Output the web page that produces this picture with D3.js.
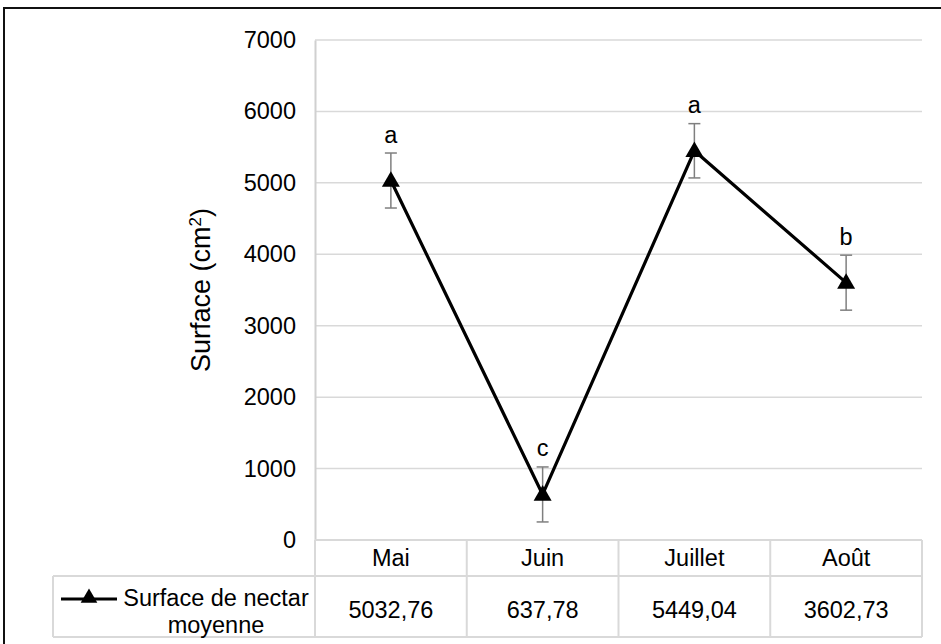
<!DOCTYPE html>
<html><head><meta charset="utf-8">
<script src="https://cdn.jsdelivr.net/npm/d3@7"></script>
<style>body{margin:0;background:#fff}svg{display:block}text{font-family:"Liberation Sans",Arial,sans-serif;fill:#000}</style>
</head><body><svg id="c" width="941" height="644"></svg>
<script>
const months = ["Mai", "Juin", "Juillet", "Août"];
const values = [5032.76, 637.78, 5449.04, 3602.73];
const valueLabels = ["5032,76", "637,78", "5449,04", "3602,73"];
const errors = [385, 385, 380, 385];
const letters = ["a", "c", "a", "b"];
const yTicks = [0, 1000, 2000, 3000, 4000, 5000, 6000, 7000];
const seriesName = ["Surface de nectar", "moyenne"];

const svg = d3.select("#c");
const FS = 23.5;
svg.append("rect").attr("width", 941).attr("height", 644).attr("fill", "#fff");
svg.append("rect").attr("x", 4).attr("y", 8).attr("width", 1000).attr("height", 1000)
  .attr("fill", "none").attr("stroke", "#111").attr("stroke-width", 2);

const x = d3.scaleBand().domain(months).range([315, 922]).padding(0);
const y = d3.scaleLinear().domain([0, 7000]).range([540, 40]);
const cx = d => x(d) + x.bandwidth() / 2;

// gridlines
svg.append("g").selectAll("line").data(yTicks.filter(t => t > 0)).join("line")
  .attr("x1", 315).attr("x2", 922).attr("y1", d => y(d)).attr("y2", d => y(d))
  .attr("stroke", "#d9d9d9").attr("stroke-width", 1.5);

// y axis
const yAxis = d3.axisLeft(y).tickValues(yTicks).tickSize(0).tickPadding(19).tickFormat(d3.format("d"));
const ga = svg.append("g").attr("transform", "translate(315,0)").call(yAxis);
ga.select(".domain").attr("stroke", "#d0d0d0").attr("stroke-width", 2);
ga.selectAll("text").attr("font-size", FS).attr("font-family", '"Liberation Sans",Arial,sans-serif').attr("fill", "#000");

// y title
svg.append("text").attr("transform", "translate(210,290) rotate(-90)")
  .attr("text-anchor", "middle").attr("font-size", 27)
  .html('Surface (cm<tspan baseline-shift="super" font-size="17">2</tspan>)');

// table
const T = {top: 540, mid: 576, bot: 637, left: 53};
const tg = svg.append("g").attr("stroke", "#d9d9d9").attr("stroke-width", 2);
tg.append("line").attr("x1", 315).attr("x2", 922).attr("y1", T.top).attr("y2", T.top);
tg.append("line").attr("x1", T.left).attr("x2", 922).attr("y1", T.mid).attr("y2", T.mid);
tg.append("line").attr("x1", T.left).attr("x2", 922).attr("y1", T.bot).attr("y2", T.bot);
tg.append("line").attr("x1", T.left).attr("x2", T.left).attr("y1", T.mid).attr("y2", T.bot);
tg.selectAll("line.v").data(months).join("line").attr("class", "v")
  .attr("x1", d => x(d)).attr("x2", d => x(d)).attr("y1", T.top).attr("y2", T.bot);
tg.append("line").attr("x1", 922).attr("x2", 922).attr("y1", T.top).attr("y2", T.bot);

svg.append("g").selectAll("text").data(months).join("text")
  .attr("x", d => cx(d)).attr("y", 558).attr("dy", "0.35em")
  .attr("text-anchor", "middle").attr("font-size", FS).text(d => d);
svg.append("g").selectAll("text").data(valueLabels).join("text")
  .attr("x", (d, i) => cx(months[i])).attr("y", 610).attr("dy", "0.35em")
  .attr("text-anchor", "middle").attr("font-size", FS).text(d => d);

// legend in table
svg.append("line").attr("x1", 61).attr("x2", 117).attr("y1", 599).attr("y2", 599)
  .attr("stroke", "#000").attr("stroke-width", 3);
const tri = d3.symbol().type(d3.symbolTriangle).size(120);
svg.append("path").attr("d", tri()).attr("transform", "translate(89,598)").attr("fill", "#000");
svg.append("g").selectAll("text").data(seriesName).join("text")
  .attr("x", 216).attr("y", (d, i) => 598 + i * 27).attr("dy", "0.35em")
  .attr("text-anchor", "middle").attr("font-size", FS).text(d => d);

// error bars
const eg = svg.append("g").attr("stroke", "#7f7f7f").attr("stroke-width", 1.5);
months.forEach((m, i) => {
  const xx = cx(m), t = y(values[i] + errors[i]), b = y(values[i] - errors[i]);
  eg.append("line").attr("x1", xx).attr("x2", xx).attr("y1", t).attr("y2", b);
  eg.append("line").attr("x1", xx - 6).attr("x2", xx + 6).attr("y1", t).attr("y2", t);
  eg.append("line").attr("x1", xx - 6).attr("x2", xx + 6).attr("y1", b).attr("y2", b);
});

// line
svg.append("path").datum(values)
  .attr("d", d3.line().x((d, i) => cx(months[i])).y(d => y(d)))
  .attr("fill", "none").attr("stroke", "#000").attr("stroke-width", 3.2).attr("stroke-linejoin", "round");

const triM = d3.symbol().type(d3.symbolTriangle).size(140);
svg.append("g").selectAll("path").data(values).join("path")
  .attr("d", triM()).attr("transform", (d, i) => `translate(${cx(months[i])},${y(d) + 1})`)
  .attr("fill", "#000");

// letters
svg.append("g").selectAll("text").data(letters).join("text")
  .attr("x", (d, i) => cx(months[i])).attr("y", (d, i) => y(values[i]) - 38)
  .attr("text-anchor", "middle").attr("font-size", FS).text(d => d);
</script></body></html>
